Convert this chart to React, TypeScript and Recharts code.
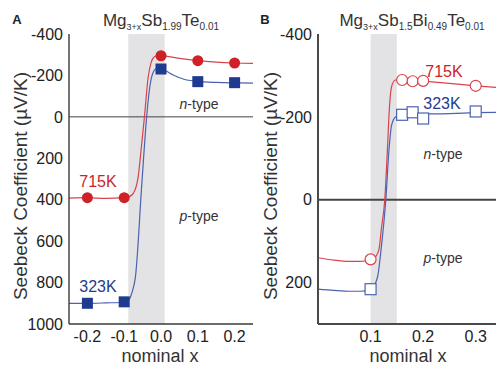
import React from "react";
import { ComposedChart, Line, Scatter, XAxis, YAxis, ReferenceArea, ReferenceLine } from "recharts";

const FONT = '"Liberation Sans", Arial, Helvetica, sans-serif';
const RED = "#cf2228";
const RED_LINE = "#d8434c";
const BLUE = "#1f3b8f";
const BLUE_LINE = "#4a62b0";

// panel A: Mg3+xSb1.99Te0.01
const xA = [-0.2, -0.1, 0.0, 0.1, 0.2];
const s715A = [390, 390, -295, -271, -260];
const s323A = [900, 893, -231, -170, -165];
const fitXA715 = [-0.25, -0.2, -0.15, -0.1, -0.085, -0.075, -0.068, -0.062, -0.055, -0.045, -0.035, -0.027, -0.018, -0.008, 0.0, 0.05, 0.1, 0.15, 0.2, 0.25];
const fitSA715 = [392, 390, 394, 390, 384, 368, 340, 290, 175, 0, -190, -262, -290, -297, -296, -282, -271, -264, -260, -258];
const fitXA323 = [-0.25, -0.2, -0.15, -0.1, -0.09, -0.082, -0.076, -0.07, -0.052, -0.039, -0.03, -0.022, -0.012, 0.0, 0.03, 0.06, 0.1, 0.15, 0.2, 0.25];
const fitSA323 = [900, 900, 898, 895, 890, 865, 830, 780, 320, 0, -150, -212, -233, -232, -205, -183, -171, -166, -164, -163];

// panel B: Mg3+xSb1.5Bi0.49Te0.01
const xB = [0.1, 0.16, 0.18, 0.2, 0.3];
const s715B = [144, -289, -286, -287, -275];
const s323B = [216, -205, -211, -196, -213];
const fitXB715 = [0, 0.03, 0.06, 0.08, 0.1, 0.11, 0.116, 0.121, 0.127, 0.132, 0.136, 0.14, 0.147, 0.16, 0.18, 0.2, 0.25, 0.3, 0.35];
const fitSB715 = [140, 146, 149, 149, 145, 137, 120, 65, 0, -120, -225, -273, -289, -290, -288, -286, -281, -275, -270];
const fitXB323 = [0, 0.03, 0.06, 0.08, 0.1, 0.108, 0.114, 0.12, 0.129, 0.135, 0.14, 0.148, 0.16, 0.18, 0.2, 0.25, 0.3, 0.35];
const fitSB323 = [216, 219, 221, 221, 217, 205, 182, 120, 0, -120, -180, -200, -205, -207, -207, -208, -210, -211];

const ticksXA = [-0.2, -0.1, 0.0, 0.1, 0.2];
const ticksYA = [-400, -200, 0, 200, 400, 600, 800, 1000];
const ticksXB = [0.05, 0.1, 0.15, 0.2, 0.25, 0.3];
const labelsXB = [0.1, 0.2, 0.3];
const ticksYB = [-400, -300, -200, -100, 0, 100, 200, 300];
const labelsYB = [-400, -200, 0, 200];

const zip = (xs: number[], ys: number[]) => xs.map((x, i) => ({ x, s: ys[i] }));

const Dot = (color: string, open: boolean) => (p: any) => (
  <circle cx={p.cx} cy={p.cy} r={5.5} fill={open ? "#fff" : color} stroke={color} strokeWidth={open ? 1.2 : 0} />
);
const Sq = (color: string, open: boolean) => (p: any) => (
  <rect x={p.cx - 5.5} y={p.cy - 5.5} width={11} height={11} fill={open ? "#fff" : color} stroke={color} strokeWidth={open ? 1.2 : 0} />
);

type PanelProps = {
  left: number;
  width: number;
  xDomain: [number, number];
  yDomain: [number, number];
  xTicks: number[];
  xLabels: number[];
  yTicks: number[];
  yLabels: number[];
  band: [number, number];
  fit715: { x: number; s: number }[];
  fit323: { x: number; s: number }[];
  pts715: { x: number; s: number }[];
  pts323: { x: number; s: number }[];
  open: boolean;
  frame: string;
  frameW: number;
  zeroW: number;
};

function Panel(p: PanelProps) {
  const tickStyle = { fill: "#222", fontSize: 16, fontFamily: FONT };
  const ax = { stroke: p.frame, strokeWidth: p.frameW };
  return (
    <div style={{ position: "absolute", left: p.left, top: 0 }}>
      <ComposedChart width={p.width} height={372} margin={{ top: 34, right: 10, bottom: 18, left: 0 }}>
        <ReferenceArea x1={p.band[0]} x2={p.band[1]} fill="#e3e3e5" fillOpacity={1} stroke="none" ifOverflow="hidden" />
        <ReferenceLine y={0} stroke="#444" strokeWidth={p.zeroW} />
        <XAxis type="number" dataKey="x" domain={p.xDomain} allowDataOverflow ticks={p.xLabels}
          tickFormatter={(v: number) => v.toFixed(1)} tickLine={false} tickSize={5} tickMargin={2}
          axisLine={ax} tick={tickStyle} height={30} />
        <XAxis xAxisId="bm" type="number" domain={p.xDomain} allowDataOverflow ticks={p.xTicks} orientation="bottom"
          mirror height={0} tick={false} tickSize={5} axisLine={ax} tickLine={{ stroke: p.frame, strokeWidth: 1 }} />
        <XAxis xAxisId="tm" type="number" domain={p.xDomain} allowDataOverflow ticks={p.xTicks} orientation="top"
          mirror height={0} tick={false} tickSize={5} axisLine={ax} tickLine={{ stroke: p.frame, strokeWidth: 1 }} />
        <YAxis type="number" dataKey="s" domain={p.yDomain} allowDataOverflow reversed ticks={p.yLabels}
          tickLine={false} tickSize={4} tickMargin={2} axisLine={ax} tick={tickStyle} width={69} />
        <YAxis yAxisId="lm" type="number" domain={p.yDomain} allowDataOverflow reversed ticks={p.yTicks} orientation="left"
          mirror width={0} tick={false} tickSize={5} axisLine={ax} tickLine={{ stroke: p.frame, strokeWidth: 1 }} />
        <YAxis yAxisId="rm" type="number" domain={p.yDomain} allowDataOverflow reversed ticks={p.yTicks} orientation="right"
          mirror width={0} tick={false} tickSize={5} axisLine={ax} tickLine={{ stroke: p.frame, strokeWidth: 1 }} />
        <Line data={p.fit715} dataKey="s" type="monotone" stroke={RED_LINE} strokeWidth={1.2} dot={false} isAnimationActive={false} />
        <Line data={p.fit323} dataKey="s" type="monotone" stroke={BLUE_LINE} strokeWidth={1.2} dot={false} isAnimationActive={false} />
        <Scatter data={p.pts715} dataKey="s" shape={Dot(p.open ? RED_LINE : RED, p.open)} isAnimationActive={false} />
        <Scatter data={p.pts323} dataKey="s" shape={Sq(p.open ? BLUE_LINE : BLUE, p.open)} isAnimationActive={false} />
      </ComposedChart>
    </div>
  );
}

const T = ({ x, y, size = 16, color = "#222", children, style }: any) => (
  <div style={{ position: "absolute", left: x, top: y, transform: "translate(-50%, -50%)", fontSize: size, color,
    fontFamily: FONT, lineHeight: 1, whiteSpace: "nowrap", ...style }}>{children}</div>
);
const Sub = ({ children, size = 10 }: any) => (
  <span style={{ fontSize: size, position: "relative", top: 4 }}>{children}</span>
);
const YTitle = ({ x, y }: { x: number; y: number }) => (
  <T x={x} y={y} size={19} color="#333" style={{ transform: "translate(-50%, -50%) rotate(-90deg)" }}>
    Seebeck Coefficient (µV/K)
  </T>
);

export default function App() {
  return (
    <div style={{ position: "absolute", left: 0, top: 0, width: 496, height: 372, overflow: "hidden", background: "#fff" }}>
      <Panel left={0} width={263} xDomain={[-0.25, 0.25]} yDomain={[-400, 1000]} xTicks={ticksXA} xLabels={ticksXA}
        yTicks={ticksYA} yLabels={ticksYA} band={[-0.089, 0.01]} fit715={zip(fitXA715, fitSA715)} fit323={zip(fitXA323, fitSA323)}
        pts715={zip(xA, s715A)} pts323={zip(xA, s323A)} open={false} frame="#3a3a3a" frameW={1.4} zeroW={1} />
      <Panel left={249} width={263} xDomain={[0, 0.35]} yDomain={[-400, 300]} xTicks={ticksXB} xLabels={labelsXB}
        yTicks={ticksYB} yLabels={labelsYB} band={[0.1, 0.15]} fit715={zip(fitXB715, fitSB715)} fit323={zip(fitXB323, fitSB323)}
        pts715={zip(xB, s715B)} pts323={zip(xB, s323B)} open={true} frame="#4a4a4a" frameW={2} zeroW={2} />

      <T x={17} y={19} size={13} style={{ fontWeight: "bold" }}>A</T>
      <T x={265} y={19} size={13} style={{ fontWeight: "bold" }}>B</T>
      <T x={161} y={20} size={17} color="#333">Mg<Sub size={9}>3+x</Sub>Sb<Sub>1.99</Sub>Te<Sub>0.01</Sub></T>
      <T x={412} y={20} size={17} color="#333">Mg<Sub size={9}>3+x</Sub>Sb<Sub>1.5</Sub>Bi<Sub>0.49</Sub>Te<Sub>0.01</Sub></T>

      <YTitle x={20} y={186} />
      <YTitle x={270} y={186} />
      <T x={160} y={356} size={18} color="#333">nominal x</T>
      <T x={408} y={356} size={18} color="#333">nominal x</T>

      <T x={98} y={182} color={RED}>715K</T>
      <T x={98} y={287} color={BLUE}>323K</T>
      <T x={199} y={104} size={14} color="#333"><i>n</i>-type</T>
      <T x={199} y={216} size={14} color="#333"><i>p</i>-type</T>

      <T x={444} y={72} color={RED}>715K</T>
      <T x={442} y={104} color={BLUE}>323K</T>
      <T x={443} y={154} size={14} color="#333"><i>n</i>-type</T>
      <T x={443} y={258} size={14} color="#333"><i>p</i>-type</T>
    </div>
  );
}
